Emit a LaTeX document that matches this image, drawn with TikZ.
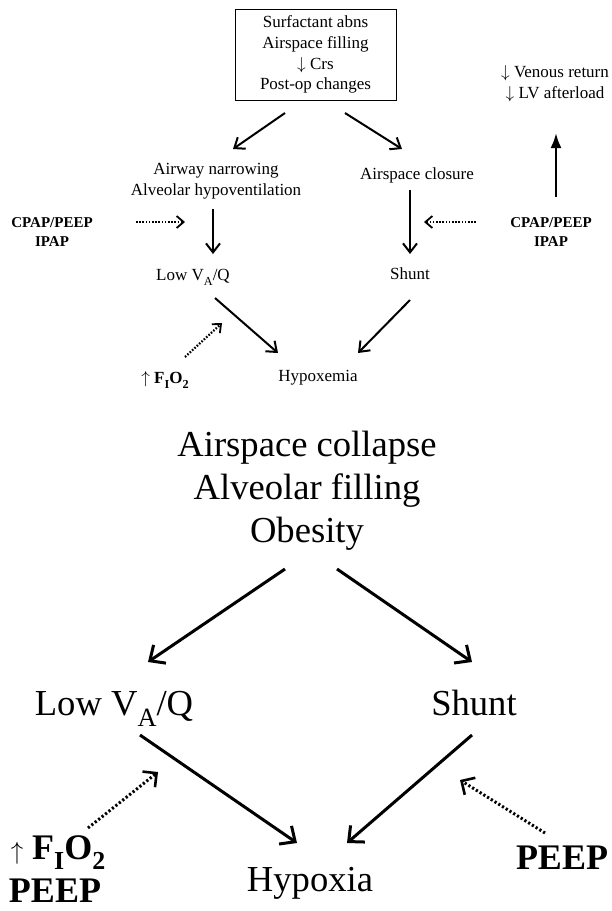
\documentclass[tikz,border=0pt]{standalone}
\usepackage{fontspec}
\usepackage{graphicx}
\setmainfont{Liberation Serif}
\usetikzlibrary{arrows.meta,calc}
\newcommand{\lsub}[1]{\raisebox{-0.3em}{\scalebox{0.72}{#1}}}
\begin{document}
\begin{tikzpicture}[x=1pt,y=-1pt,
  small/.style={font=\fontsize{17}{20.7}\selectfont, align=center, inner sep=0pt},
  smallb/.style={font=\fontsize{15}{19}\selectfont\bfseries, align=center, inner sep=0pt},
  big/.style={font=\fontsize{36.6}{43}\selectfont, align=center, inner sep=0pt},
  bigb/.style={font=\fontsize{36}{34}\selectfont\bfseries, align=center, inner sep=0pt},
  arr/.style={line width=2pt, -{Straight Barb[length=9pt,width=14pt,line width=2pt]}},
  arrB/.style={line width=3pt, -{Straight Barb[length=12pt,width=22pt,line width=3pt]}},
  dots/.style={line width=2.2pt, dash pattern=on 1.6pt off 1.6pt, -{Straight Barb[length=7pt,width=12pt,line width=1.8pt]}},
  dotsB/.style={line width=3pt, dash pattern=on 2.2pt off 2.2pt, -{Straight Barb[length=10pt,width=20pt,line width=2.6pt]}},
  uparr/.style={line width=2.4pt, -{Latex[length=15pt,width=11pt]}}
]
\useasboundingbox (0,0) rectangle (611,911);
\fill[white] (0,0) rectangle (611,911);

% ---------- top diagram ----------
\node[small, draw, line width=0.9pt, minimum width=161pt, minimum height=91pt] (box) at (315.5,54.5)
  {Surfactant abns\\Airspace filling\\$\downarrow$ Crs\\Post-op changes};
\node[small] (ven) at (555,84) {$\downarrow$ Venous return\\$\downarrow$ LV afterload};
\node[small] (airway) at (216,181) {Airway narrowing\\Alveolar hypoventilation};
\node[small] (closure) at (417,175) {Airspace closure};
\node[small] (lowtop) at (193,277) {Low V\lsub{A}/Q};
\node[small] (shunttop) at (410,274) {Shunt};
\node[small] (hypoxemia) at (318,378) {Hypoxemia};
\node[small] (fio2top) at (165,380) {$\uparrow$ \textbf{F\lsub{I}O\lsub{2}}};
\node[smallb] (cpapL) at (52,232) {CPAP/PEEP\\IPAP};
\node[smallb] (cpapR) at (551,232) {CPAP/PEEP\\IPAP};

\draw[arr] ($(box)+(-30.5,58.5)$) -- ($(airway)+(17,-32)$);
\draw[arr] ($(box)+(29.5,58.5)$) -- ($(closure)+(-15,-26)$);
\draw[arr] ($(airway)+(-3,28)$) -- ($(lowtop)+(20,-23)$);
\draw[arr] ($(closure)+(-7,15)$) -- ($(shunttop)+(0,-20)$);
\draw[arr] ($(lowtop)+(22,21)$) -- ($(hypoxemia)+(-40,-25)$);
\draw[arr] ($(shunttop)+(0,26)$) -- ($(hypoxemia)+(40,-25)$);
\draw[dots] ($(cpapL)+(84,-10)$) -- ($(airway)+(-31,41)$);
\draw[dots] ($(cpapR)+(-75,-10)$) -- ($(closure)+(7,47)$);
\draw[uparr] ($(cpapR)+(5,-35)$) -- ($(ven)+(1,49)$);
\draw[dots] ($(fio2top)+(20,-23)$) -- ($(lowtop)+(29,46)$);

% ---------- bottom diagram ----------
\node[big] (collapse) at (307,491) {Airspace collapse\\Alveolar filling\\Obesity};
\node[big] (lowbot) at (114,709) {Low V\lsub{A}/Q};
\node[big] (shuntbot) at (474,703) {Shunt};
\node[big] (hypoxia) at (310,883) {Hypoxia};
\node[bigb, anchor=base] (fio2b) at (58,859) {$\uparrow$ F\lsub{I}O\lsub{2}};
\node[bigb, anchor=base] (peepL) at (55,902) {PEEP};
\node[bigb] (peepR) at (562,858) {PEEP};

\draw[arrB] ($(collapse)+(-22,78)$) -- ($(lowbot)+(34,-47)$);
\draw[arrB] ($(collapse)+(30,78)$) -- ($(shuntbot)+(-2,-41)$);
\draw[arrB] ($(lowbot)+(26,26)$) -- ($(hypoxia)+(-13,-40)$);
\draw[arrB] ($(shuntbot)+(-2,32)$) -- ($(hypoxia)+(37,-40)$);
\draw[dotsB] ($(fio2b.north)+(30,-7)$) -- ($(lowbot)+(44,63)$);
\draw[dotsB] ($(peepR)+(-17,-25)$) -- ($(shuntbot)+(-14,77)$);
\end{tikzpicture}
\end{document}
